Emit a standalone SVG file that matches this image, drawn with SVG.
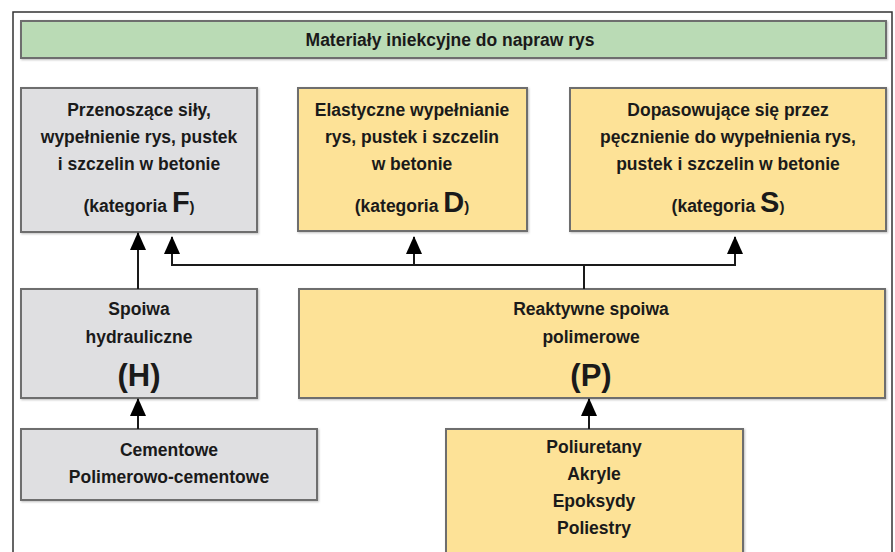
<svg xmlns="http://www.w3.org/2000/svg" width="895" height="552" viewBox="0 0 895 552">
  <defs>
    <marker id="arr" viewBox="0 0 18 16" refX="17" refY="8" markerWidth="18" markerHeight="16" markerUnits="userSpaceOnUse" orient="auto">
      <path d="M0,0 L18,8 L0,16 Z" fill="#000"/>
    </marker>
    <filter id="sh" x="-5%" y="-5%" width="110%" height="115%">
      <feDropShadow dx="1" dy="1" stdDeviation="1" flood-color="#000" flood-opacity="0.25"/>
    </filter>
  </defs>
  <style>
    .box { stroke: #6e6e6e; stroke-width: 2; filter: url(#sh); }
    .grey { fill: #dfdfe1; }
    .yel { fill: #fde297; }
    .green { fill: #badbb5; }
    text { font-family: "Liberation Sans", Arial, sans-serif; font-weight: bold; font-size: 17.5px; fill: #1a1a1a; text-anchor: middle; }
    .big { font-size: 29px; }
    .bigp { font-size: 31px; }
    .sm { font-size: 15px; }
    .conn { stroke: #1a1a1a; stroke-width: 2; fill: none; }
  </style>
  <rect width="895" height="552" fill="#fff"/>
  <rect x="13" y="12" width="879" height="600" fill="none" stroke="#333" stroke-width="1.5"/>

  <g id="title">
    <rect class="box green" x="21" y="21" width="865" height="37"/>
    <text x="450" y="46">Materiały iniekcyjne do napraw rys</text>
  </g>

  <g id="catF">
    <rect class="box grey" x="21" y="88" width="236" height="144"/>
    <text x="139" y="116">Przenoszące siły,</text>
    <text x="139" y="143">wypełnienie rys, pustek</text>
    <text x="139" y="170">i szczelin w betonie</text>
    <text x="139" y="212">(kategoria <tspan class="big">F</tspan><tspan class="sm">)</tspan></text>
  </g>

  <g id="catD">
    <rect class="box yel" x="298" y="88" width="229" height="143"/>
    <text x="412" y="116">Elastyczne wypełnianie</text>
    <text x="412" y="143">rys, pustek i szczelin</text>
    <text x="412" y="170">w betonie</text>
    <text x="412" y="212">(kategoria <tspan class="big">D</tspan><tspan class="sm">)</tspan></text>
  </g>

  <g id="catS">
    <rect class="box yel" x="570" y="88" width="316" height="143"/>
    <text x="728" y="116">Dopasowujące się przez</text>
    <text x="728" y="143">pęcznienie do wypełnienia rys,</text>
    <text x="728" y="170">pustek i szczelin w betonie</text>
    <text x="728" y="212">(kategoria <tspan class="big">S</tspan><tspan class="sm">)</tspan></text>
  </g>

  <g id="hydr">
    <rect class="box grey" x="21" y="289" width="236" height="109"/>
    <text x="139" y="315">Spoiwa</text>
    <text x="139" y="343">hydrauliczne</text>
    <text class="bigp" x="139" y="386">(H)</text>
  </g>

  <g id="poly">
    <rect class="box yel" x="299" y="289" width="586" height="109"/>
    <text x="591" y="315">Reaktywne spoiwa</text>
    <text x="591" y="343">polimerowe</text>
    <text class="bigp" x="591" y="386">(P)</text>
  </g>

  <g id="cement">
    <rect class="box grey" x="21" y="429" width="296" height="71"/>
    <text x="169" y="456">Cementowe</text>
    <text x="169" y="483">Polimerowo-cementowe</text>
  </g>

  <g id="resins">
    <rect class="box yel" x="446" y="429" width="297" height="140"/>
    <text x="594" y="453">Poliuretany</text>
    <text x="594" y="480">Akryle</text>
    <text x="594" y="507">Epoksydy</text>
    <text x="594" y="534">Poliestry</text>
  </g>

  <g id="connectors">
    <path class="conn" d="M138,289 L138,233" marker-end="url(#arr)"/>
    <path class="conn" d="M584,289 L584,265"/>
    <path class="conn" d="M584,265 L172,265 L172,237" marker-end="url(#arr)"/>
    <path class="conn" d="M414,265 L414,237" marker-end="url(#arr)"/>
    <path class="conn" d="M584,265 L735,265 L735,237" marker-end="url(#arr)"/>
    <path class="conn" d="M138,429 L138,399" marker-end="url(#arr)"/>
    <path class="conn" d="M589,429 L589,399" marker-end="url(#arr)"/>
  </g>
</svg>
